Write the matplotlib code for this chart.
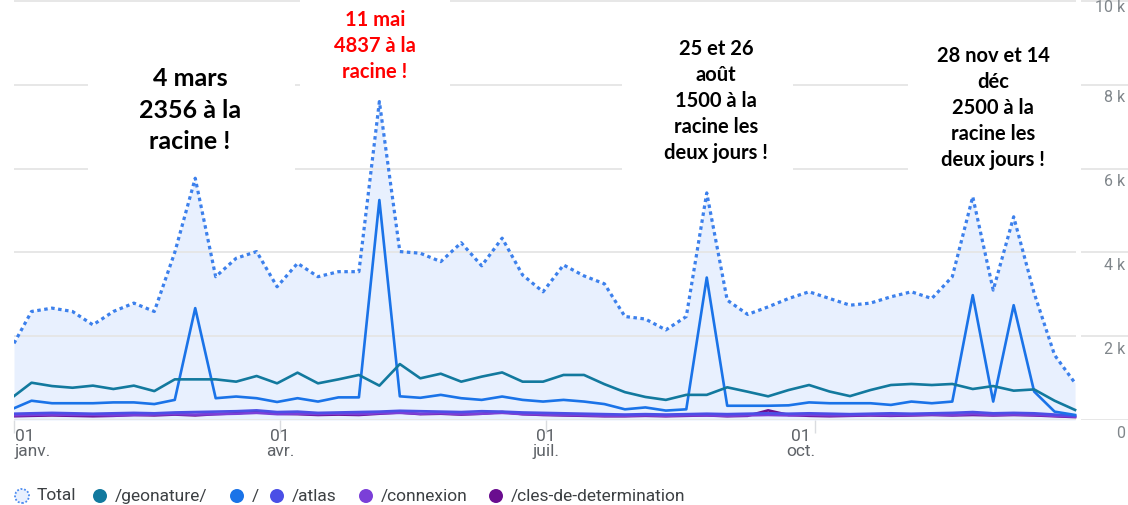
import matplotlib.pyplot as plt
import matplotlib.dates as mdates
from matplotlib.patches import Rectangle, Circle
from matplotlib.transforms import IdentityTransform
import pandas as pd

plt.rcParams['font.family'] = ['Roboto', 'DejaVu Sans']

# semaines 2024 (premier point = 1er janv., puis chaque dimanche)
semaines = pd.DatetimeIndex([pd.Timestamp('2024-01-01')]).append(
    pd.date_range('2024-01-07', '2024-12-29', freq='7D'))

total = [1830, 2590, 2670, 2590, 2270, 2590, 2790, 2590, 4000, 5770,
         3420, 3860, 4020, 3180, 3740, 3420, 3540, 3540, 7600, 4020,
         3980, 3780, 4230, 3680, 4340, 3460, 3060, 3700, 3440, 3250,
         2470, 2410, 2150, 2470, 5420, 2860, 2520, 2700, 2900, 3060,
         2900, 2740, 2790, 2940, 3060, 2900, 3420, 5330, 3100, 4850,
         3030, 1550, 880]
geonature = [570, 890, 810, 770, 820, 740, 820, 690, 970, 970,
             970, 915, 1050, 875, 1130, 875, 970, 1075, 820, 1335,
             995, 1105, 915, 1035, 1135, 915, 915, 1075, 1075, 855,
             665, 550, 480, 600, 600, 780, 675, 565, 715, 835,
             680, 570, 715, 835, 860, 835, 860, 740, 810, 700,
             730, 460, 240]
racine = [280, 460, 400, 400, 400, 420, 420, 380, 480, 2670,
          520, 560, 520, 430, 520, 440, 540, 540, 5250, 565,
          530, 600, 520, 480, 560, 480, 440, 480, 440, 380,
          255, 300, 225, 255, 3400, 340, 340, 340, 350, 420,
          400, 400, 400, 360, 440, 400, 440, 2980, 440, 2740,
          680, 200, 120]
atlas = [150, 160, 170, 160, 150, 160, 170, 160, 180, 190,
         200, 210, 230, 190, 200, 170, 180, 190, 200, 220,
         210, 200, 190, 210, 200, 180, 170, 160, 150, 140,
         130, 140, 130, 140, 150, 140, 150, 160, 150, 160,
         150, 140, 150, 160, 150, 160, 170, 190, 160, 170,
         160, 130, 100]
connexion = [110, 120, 130, 120, 120, 110, 120, 130, 140, 130,
             140, 150, 170, 140, 150, 140, 150, 140, 160, 170,
             150, 160, 140, 150, 170, 140, 130, 120, 110, 100,
             100, 110, 100, 110, 110, 100, 110, 120, 110, 120,
             110, 110, 120, 110, 120, 130, 120, 140, 120, 130,
             120, 100, 80]
cles = [90, 100, 110, 100, 90, 100, 120, 110, 130, 110,
        140, 160, 200, 150, 140, 120, 130, 120, 150, 180,
        140, 150, 130, 150, 190, 140, 120, 110, 100, 90,
        90, 100, 90, 100, 110, 90, 100, 230, 120, 100,
        90, 100, 110, 100, 110, 120, 110, 120, 110, 120,
        110, 90, 70]

series = [('/geonature/', geonature, '#12799e'),
          ('/', racine, '#1a73e8'),
          ('/atlas', atlas, '#4b4fe6'),
          ('/connexion', connexion, '#7b3fd8'),
          ('/cles-de-determination', cles, '#6a0d8f')]

y_ticks = [0, 2000, 4000, 6000, 8000, 10000]
y_labels = ['0', '2 k', '4 k', '6 k', '8 k', '10 k']
x_ticks = pd.to_datetime(['2024-01-01', '2024-04-01', '2024-07-01', '2024-10-01'])
x_labels = ['01\njanv.', '01\navr.', '01\njuil.', '01\noct.']

W, H = 1128, 505
fig = plt.figure(figsize=(W / 100, H / 100), dpi=100)
ax = fig.add_axes([14 / W, 85 / H, (W - 14) / W, 420 / H])

debut = mdates.date2num(pd.Timestamp('2024-01-01'))
ax.set_xlim(debut, debut + (W - 14) / 2.923)
ax.set_ylim(0, 420 / 41.9 * 1000)

for v in y_ticks:
    ax.axhline(v, color='#e5e5e5', lw=1.3, zorder=1)
for v, lab in zip(y_ticks, y_labels):
    dy = -6 if v == 10000 else -13
    ax.annotate(lab, xy=(1, v), xycoords=('axes fraction', 'data'),
                xytext=(-3, dy), textcoords='offset pixels',
                ha='right', va='center', fontsize=11.5, color='#80868b',
                annotation_clip=False)

ax.fill_between(semaines, total, 0, color='#e8f0fe', zorder=0.5, lw=0)
ax.plot(semaines, total, color='#3c80ec', lw=2.3, linestyle=(0, (1.1, 1.1)),
        zorder=4)
for nom, vals, c in reversed(series):
    ax.plot(semaines, vals, color=c, lw=1.9, zorder=3)

# petite coupure des lignes de grille avant les labels
ax.add_patch(Rectangle((1076, 0), 5, H, transform=IdentityTransform(),
                       facecolor='white', edgecolor='none', zorder=1.2))

ax.set_xticks(x_ticks)
ax.set_xticklabels([])
ax.tick_params(axis='x', length=9, color='#dadce0', width=1)
ax.set_yticks([])
for s in ax.spines.values():
    s.set_visible(False)

decal = [(1, 'left'), (0, 'center'), (0, 'center'), (-14, 'center')]
for d, lab, (dx, ha) in zip(x_ticks, x_labels, decal):
    ax.annotate(lab, xy=(d, 0), xytext=(dx, -9), textcoords='offset pixels',
                ha=ha, va='top', fontsize=12.5, color='#5f6368',
                linespacing=1.0, annotation_clip=False)

# cadres blancs derriere les commentaires
cadres = [(88, 295, 50, 173), (300, 450, 0, 89), (622, 793, 28, 176),
          (908, 1076, 35, 176)]
for x0, x1, y0, y1 in cadres:
    ax.add_patch(Rectangle((x0, H - y1), x1 - x0, y1 - y0,
                           transform=IdentityTransform(), facecolor='white',
                           edgecolor='none', zorder=2))

notes = [("4 mars\n2356 à la\nracine !", 190, 110, 18, 'black', 1.45),
         ("11 mai\n4837 à la\nracine !", 375, 46, 14.5, 'red', 1.37),
         ("25 et 26\naoût\n1500 à la\nracine les\ndeux jours !", 716, 101, 14.5, 'black', 1.37),
         ("28 nov et 14\ndéc\n2500 à la\nracine les\ndeux jours !", 993, 108, 14.5, 'black', 1.37)]
for txt, x, y, fs, c, ls in notes:
    fig.text(x / W, 1 - y / H, txt, ha='center', va='center', fontsize=fs,
             color=c, fontweight='bold', family='Lato', linespacing=ls,
             multialignment='center')

# legende
leg_x = [22, 100, 237, 277, 366, 496]
leg_noms = ['Total'] + [s[0] for s in series]
for i, (cx, nom) in enumerate(zip(leg_x, leg_noms)):
    if i == 0:
        pt = Circle((cx, 9), 7, transform=IdentityTransform(),
                    facecolor='#e8f0fe', edgecolor='#4a8af0', lw=1.3,
                    linestyle=(0, (1, 1)))
    else:
        pt = Circle((cx, 9), 7, transform=IdentityTransform(),
                    facecolor=series[i - 1][2], edgecolor='none')
    fig.add_artist(pt)
    fig.text((cx + 15) / W, 9 / H, nom, ha='left', va='center', fontsize=12.5,
             color='#3c4043')

fig.savefig('out.png', dpi=100)
